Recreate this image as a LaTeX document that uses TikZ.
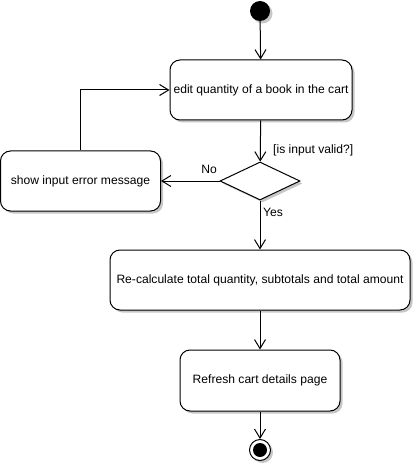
\documentclass[tikz,border=0pt]{standalone}
\usepackage{fontspec}
\setmainfont{Liberation Sans}
\usetikzlibrary{arrows.meta,shapes.geometric,shadows}
\begin{document}
\begin{tikzpicture}[x=1pt,y=1pt,
  font=\fontsize{12.1}{14}\selectfont,
  shad/.style={drop shadow={shadow xshift=2.5pt,shadow yshift=-2.5pt,fill=black!22,opacity=1}},
  act/.style={draw,line width=1pt,rounded corners=10pt,fill=white,inner sep=0pt,align=center,shad},
  dec/.style={draw,line width=1pt,diamond,aspect=2.1,minimum width=80pt,minimum height=38pt,inner sep=0pt,fill=white,shad},
  flow/.style={draw,line width=1pt,-{Straight Barb[length=9pt,width=11pt,line width=1pt]}},
  lbl/.style={inner sep=0pt}]
\useasboundingbox (0,0) rectangle (415,-465);
\node[circle,fill=black,minimum size=20pt,inner sep=0pt,shad] (start) at (260,-11) {};
\node[act,minimum width=182pt,minimum height=60pt] (edit) at (261,-90) {edit quantity of a book in the cart};
\node[dec] (dec) at (260,-181) {};
\node[act,minimum width=160pt,minimum height=60pt] (err) at (80.5,-181) {show input error message};
\node[act,minimum width=300pt,minimum height=60pt] (calc) at (260,-280) {Re-calculate total quantity, subtotals and total amount};
\node[act,minimum width=160pt,minimum height=61pt] (refresh) at (260,-380.5) {Refresh cart details page};
\node[circle,draw,line width=1pt,fill=white,minimum size=21pt,inner sep=0pt,shad] (end) at (260,-450) {};
\node[circle,fill=black,minimum size=14pt,inner sep=0pt] (endin) at (end.center) {};
\coordinate (bend) at (80.5,-90);
\path[flow] (start) -- (edit);
\path[flow] (edit) -- (dec);
\path[flow] (dec) -- (err);
\path[flow] (dec) -- (calc);
\path[flow] (calc) -- (refresh);
\path[flow] (refresh) -- (end);
\path[flow] (err.north) -- (bend) -- (edit.west);
\node[lbl,anchor=west] (q) at (273,-150) {[is input valid?]};
\node[lbl] (no) at (209,-169) {No};
\node[lbl] (yes) at (273,-212) {Yes};
\end{tikzpicture}
\end{document}
